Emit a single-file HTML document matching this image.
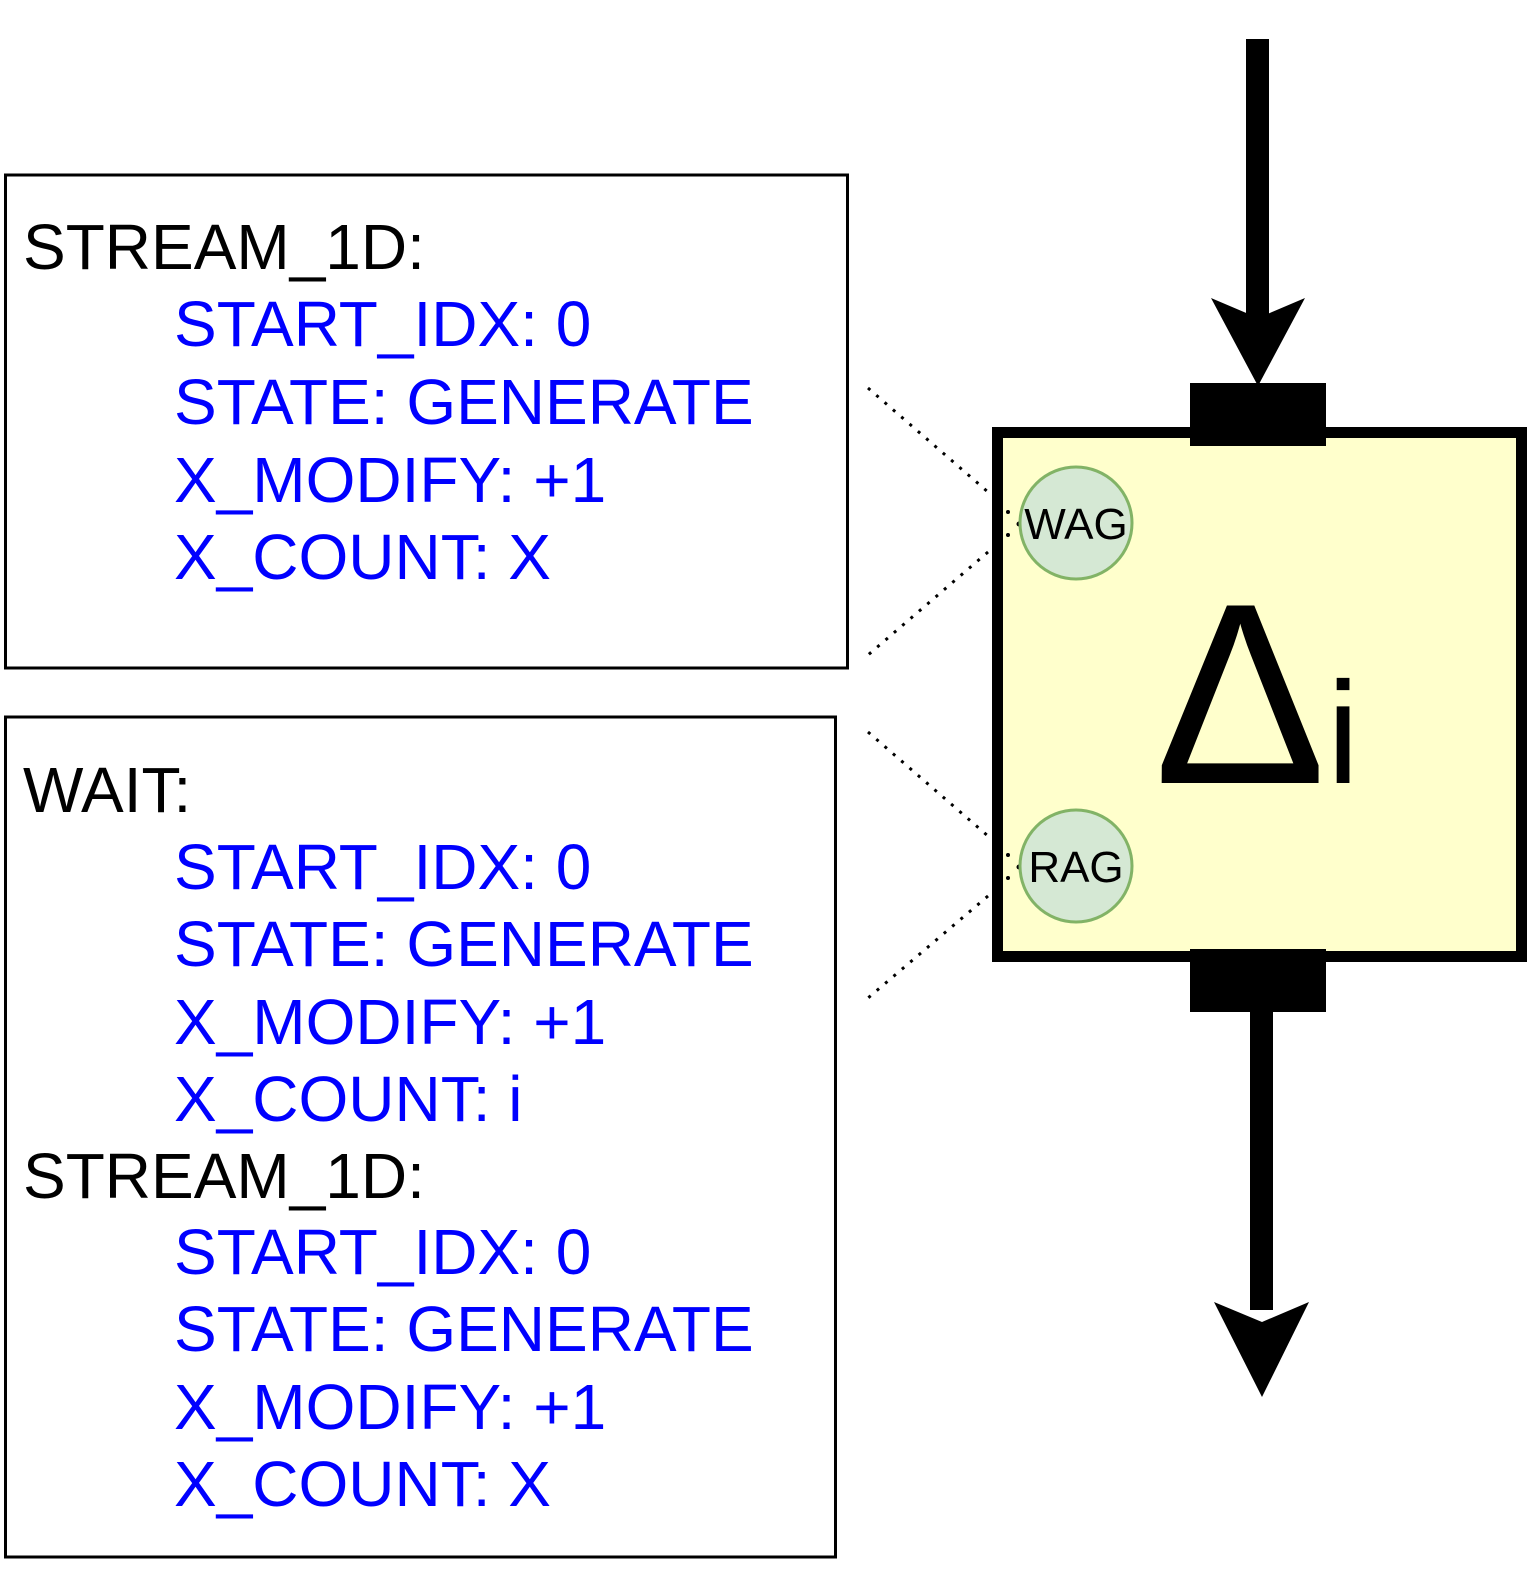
<!DOCTYPE html>
<html><head><meta charset="utf-8"><style>
html,body{margin:0;padding:0;background:#fff;}
svg{display:block}
text{font-family:"Liberation Sans",Arial,sans-serif;}
</style></head><body>
<svg width="1536" height="1575" viewBox="0 0 1536 1575" xmlns="http://www.w3.org/2000/svg">
<rect x="0" y="0" width="1536" height="1575" fill="#fff"/>
<rect x="5.5" y="175" width="842" height="493" fill="none" stroke="#000" stroke-width="3"/>
<rect x="5.5" y="717" width="830" height="840" fill="none" stroke="#000" stroke-width="3"/>
<g font-size="64">
<text x="23" y="269" fill="#000">STREAM_1D:</text>
<text x="174" y="346" fill="#0000ff">START_IDX: 0</text>
<text x="174" y="424" fill="#0000ff">STATE: GENERATE</text>
<text x="174" y="502" fill="#0000ff">X_MODIFY: +1</text>
<text x="174" y="579" fill="#0000ff">X_COUNT: X</text>

<text x="23" y="812" fill="#000">WAIT:</text>
<text x="174" y="889" fill="#0000ff">START_IDX: 0</text>
<text x="174" y="966" fill="#0000ff">STATE: GENERATE</text>
<text x="174" y="1044" fill="#0000ff">X_MODIFY: +1</text>
<text x="174" y="1121" fill="#0000ff">X_COUNT: i</text>
<text x="23" y="1198" fill="#000">STREAM_1D:</text>
<text x="174" y="1274" fill="#0000ff">START_IDX: 0</text>
<text x="174" y="1351" fill="#0000ff">STATE: GENERATE</text>
<text x="174" y="1429" fill="#0000ff">X_MODIFY: +1</text>
<text x="174" y="1506" fill="#0000ff">X_COUNT: X</text>
</g>
<rect x="997.5" y="432.5" width="524" height="524" fill="#ffffcc" stroke="#000" stroke-width="11"/>
<text x="1154" y="783" font-size="258" fill="#000">Δ</text>
<text x="1327" y="783" font-size="145" fill="#000">i</text>
<rect x="1190" y="383" width="136" height="63" fill="#000"/>
<rect x="1190" y="949" width="136" height="63" fill="#000"/>
<rect x="1246" y="39" width="23" height="280" fill="#000"/>
<polygon points="1211,298 1258,318 1305,298 1258,386" fill="#000"/>
<rect x="1250" y="1010" width="23" height="300" fill="#000"/>
<polygon points="1214,1302 1262,1322 1309,1302 1262,1397" fill="#000"/>
<g stroke="#000" stroke-width="3" stroke-dasharray="3,8" fill="none">
<line x1="868" y1="388" x2="988" y2="492"/>
<line x1="988" y1="552" x2="868" y2="655"/>
<line x1="868" y1="732" x2="988" y2="836"/>
<line x1="988" y1="896" x2="868" y2="998"/>
</g>
<g fill="#000">
<circle cx="1008" cy="512" r="2"/><circle cx="1019" cy="524" r="2.5"/><circle cx="1008" cy="535" r="2"/>
<circle cx="1008" cy="855" r="2"/><circle cx="1019" cy="867" r="2.5"/><circle cx="1008" cy="878" r="2"/>
</g>
<circle cx="1076" cy="523" r="56" fill="#d5e8d4" stroke="#82b366" stroke-width="3"/>
<text x="1076" y="539" font-size="44" text-anchor="middle" fill="#000">WAG</text>
<circle cx="1076" cy="866" r="56" fill="#d5e8d4" stroke="#82b366" stroke-width="3"/>
<text x="1076" y="882" font-size="44" text-anchor="middle" fill="#000">RAG</text>
</svg>
</body></html>
